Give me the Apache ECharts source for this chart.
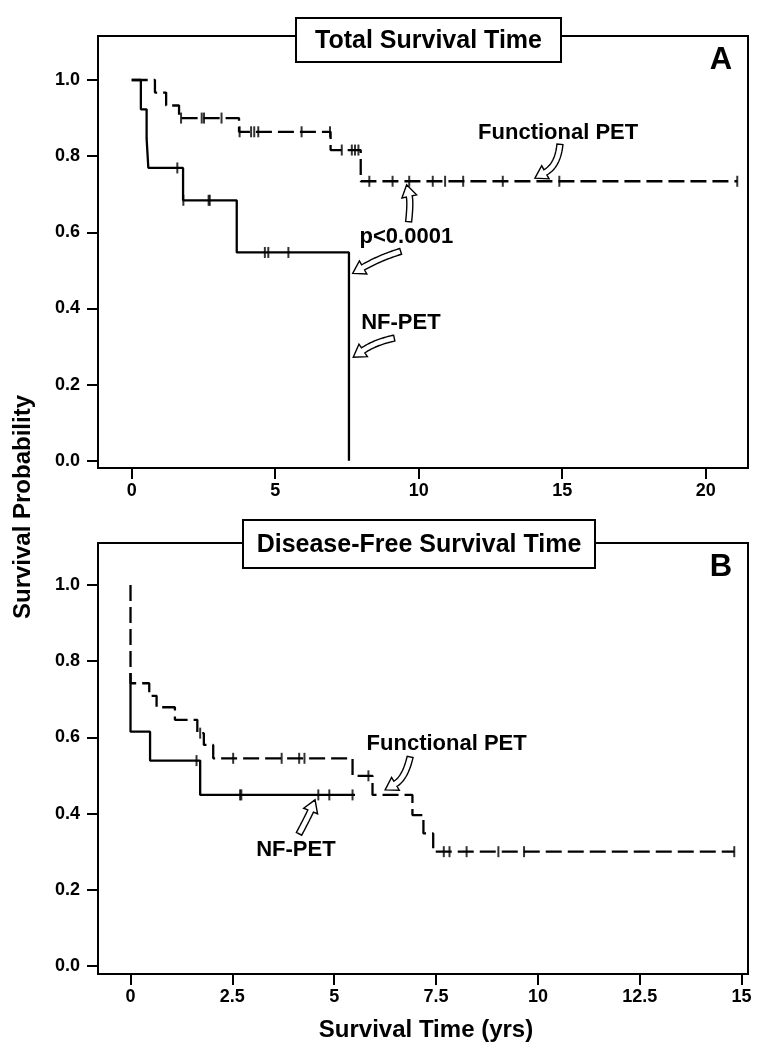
<!DOCTYPE html>
<html><head><meta charset="utf-8">
<script src="https://cdn.jsdelivr.net/npm/echarts@6/dist/echarts.min.js"></script>
<style>html,body{margin:0;padding:0;background:#fff}#c{width:766px;height:1050px}</style>
</head><body><div id="c"></div>
<script>
// ---- Panel A: Total Survival Time ----
const totalFuncTimes = [0, 0.81, 1.20, 1.65, 3.74, 6.93, 7.98, 21.1];
const totalFuncSurv  = [1, 0.967, 0.933, 0.900, 0.864, 0.816, 0.734, 0.734];
const totalFuncCensor = [1.72, 2.44, 2.52, 3.13, 3.76, 4.16, 4.27, 4.41, 5.92, 6.91, 7.32, 7.67, 7.78, 7.90, 8.28, 9.09, 9.67, 10.49, 10.92, 11.55, 12.93, 14.90, 21.1];
const totalNfTimes = [0, 0.32, 0.52, 0.58, 1.79, 3.66, 7.57];
const totalNfSurv  = [1, 0.923, 0.846, 0.769, 0.684, 0.547, 0];
const totalNfCensor = [1.59, 1.80, 2.68, 2.72, 4.64, 4.76, 5.46];
// ---- Panel B: Disease-Free Survival Time ----
const dfsFuncTimes = [0, 0, 0.46, 0.64, 1.09, 1.64, 1.80, 2.03, 5.45, 5.94, 6.92, 7.19, 7.43, 14.82];
const dfsFuncSurv  = [1, 0.742, 0.709, 0.679, 0.646, 0.611, 0.580, 0.545, 0.499, 0.449, 0.396, 0.348, 0.300, 0.300];
const dfsFuncCensor = [1.71, 2.52, 3.71, 4.14, 4.27, 5.84, 7.69, 7.83, 8.25, 9.03, 9.66, 14.82];
const dfsNfTimes = [0, 0, 0.48, 1.71, 5.51];
const dfsNfSurv  = [0.769, 0.615, 0.539, 0.449, 0.449];
const dfsNfCensor = [1.62, 2.69, 2.72, 4.61, 4.88, 5.45];
// ---- tick labels ----
const totalXTicks = [0, 5, 10, 15, 20];
const dfsXTicks = [0, 2.5, 5, 7.5, 10, 12.5, 15];
const probTicks = [0, 0.2, 0.4, 0.6, 0.8, 1.0];

const FONT = 'Liberation Sans, Arial, Helvetica, sans-serif';

function curve(times, surv) { return times.map((t, i) => [t, surv[i]]); }
function survAt(times, surv, t) {
  let v = surv[0];
  for (let i = 0; i < times.length; i++) { if (times[i] <= t) v = surv[i]; }
  return v;
}
function censorPts(times, surv, cens) { return cens.map(t => [t, survAt(times, surv, t)]); }

function xAxisDef(grid, min, max, ticks) {
  return {
    type: 'value', gridIndex: grid, min: min, max: max,
    axisLine: { show: true, onZero: false, lineStyle: { color: '#000', width: 2 } },
    axisTick: { show: true, length: 11, customValues: ticks, lineStyle: { color: '#000', width: 2 } },
    axisLabel: { customValues: ticks, margin: 14, color: '#000', fontFamily: FONT, fontWeight: 'bold', fontSize: 18,
      formatter: v => String(v) },
    splitLine: { show: false }
  };
}
function yAxisDef(grid, min, max) {
  return {
    type: 'value', gridIndex: grid, min: min, max: max,
    axisLine: { show: true, onZero: false, lineStyle: { color: '#000', width: 2 } },
    axisTick: { show: true, length: 11, customValues: probTicks, lineStyle: { color: '#000', width: 2 } },
    axisLabel: { customValues: probTicks, margin: 18, color: '#000', fontFamily: FONT, fontWeight: 'bold', fontSize: 18,
      formatter: v => v.toFixed(1) },
    splitLine: { show: false }
  };
}
function lineSeries(grid, data, dashed) {
  return { type: 'line', xAxisIndex: grid, yAxisIndex: grid, data: data, step: 'end', showSymbol: false,
    symbol: 'none', silent: true,
    lineStyle: { color: '#000', width: 2.3, type: dashed ? [16, 6] : 'solid' } };
}
function censorSeries(grid, data) {
  return { type: 'scatter', xAxisIndex: grid, yAxisIndex: grid, data: data, symbol: 'rect', symbolSize: [2, 11],
    silent: true, itemStyle: { color: '#000' } };
}

const chart = echarts.init(document.getElementById('c'), null, { renderer: 'canvas' });
chart.setOption({
  animation: false,
  backgroundColor: '#fff',
  grid: [
    { left: 98, top: 36, width: 650, height: 432, show: true, borderColor: '#000', borderWidth: 2 },
    { left: 98, top: 543, width: 650, height: 431, show: true, borderColor: '#000', borderWidth: 2 }
  ],
  xAxis: [xAxisDef(0, -1.174, 21.474, totalXTicks), xAxisDef(1, -0.798, 15.157, dfsXTicks)],
  yAxis: [yAxisDef(0, -0.0192, 1.1156), yAxisDef(1, -0.021, 1.110)],
  series: [
    lineSeries(0, curve(totalFuncTimes, totalFuncSurv), true),
    lineSeries(0, curve(totalNfTimes, totalNfSurv), false),
    censorSeries(0, censorPts(totalFuncTimes, totalFuncSurv, totalFuncCensor)),
    censorSeries(0, censorPts(totalNfTimes, totalNfSurv, totalNfCensor)),
    lineSeries(1, curve(dfsFuncTimes, dfsFuncSurv), true),
    lineSeries(1, curve(dfsNfTimes, dfsNfSurv), false),
    censorSeries(1, censorPts(dfsFuncTimes, dfsFuncSurv, dfsFuncCensor)),
    censorSeries(1, censorPts(dfsNfTimes, dfsNfSurv, dfsNfCensor))
  ]
});

// ---- annotations ----
function arrowPts(p0, c, p1, shaftW, headW, headL) {
  const dx = p1[0] - c[0], dy = p1[1] - c[1], L = Math.hypot(dx, dy);
  const ux = dx / L, uy = dy / L;
  const b = [p1[0] - ux * headL, p1[1] - uy * headL];
  const N = 24, left = [], right = [];
  for (let i = 0; i <= N; i++) {
    const s = i / N;
    const x = (1 - s) * (1 - s) * p0[0] + 2 * (1 - s) * s * c[0] + s * s * b[0];
    const y = (1 - s) * (1 - s) * p0[1] + 2 * (1 - s) * s * c[1] + s * s * b[1];
    const tx = 2 * (1 - s) * (c[0] - p0[0]) + 2 * s * (b[0] - c[0]);
    const ty = 2 * (1 - s) * (c[1] - p0[1]) + 2 * s * (b[1] - c[1]);
    const tl = Math.hypot(tx, ty) || 1;
    const nx = -ty / tl, ny = tx / tl;
    left.push([x + nx * shaftW / 2, y + ny * shaftW / 2]);
    right.push([x - nx * shaftW / 2, y - ny * shaftW / 2]);
  }
  const nx = -uy, ny = ux;
  return left.concat([[b[0] + nx * headW / 2, b[1] + ny * headW / 2], p1, [b[0] - nx * headW / 2, b[1] - ny * headW / 2]])
    .concat(right.reverse());
}
function px(grid, pt) { return chart.convertToPixel({ gridIndex: grid }, pt); }
function arrow(grid, tipData, tailOff, ctrlOff) {
  const tip = px(grid, tipData);
  const p0 = [tip[0] + tailOff[0], tip[1] + tailOff[1]];
  const c = [tip[0] + ctrlOff[0], tip[1] + ctrlOff[1]];
  return { type: 'polygon', z: 50, shape: { points: arrowPts(p0, c, tip, 6, 15, 12) },
    style: { fill: '#fff', stroke: '#000', lineWidth: 1.4 } };
}
function label(grid, posData, text, size) {
  const p = px(grid, posData);
  return { type: 'text', z: 50, x: p[0], y: p[1],
    style: { text: text, fill: '#000', fontFamily: FONT, fontWeight: 'bold', fontSize: size || 22,
      align: 'center', verticalAlign: 'middle' } };
}
function titleBox(x0, y0, x1, y1, text) {
  return [
    { type: 'rect', z: 60, shape: { x: x0, y: y0, width: x1 - x0, height: y1 - y0 },
      style: { fill: '#fff', stroke: '#000', lineWidth: 2 } },
    { type: 'text', z: 61, x: (x0 + x1) / 2, y: (y0 + y1) / 2 + 1,
      style: { text: text, fill: '#000', fontFamily: FONT, fontWeight: 'bold', fontSize: 25,
        align: 'center', verticalAlign: 'middle' } }
  ];
}

const graphics = [].concat(
  titleBox(296, 18, 561, 62, 'Total Survival Time'),
  titleBox(243, 520, 595, 568, 'Disease-Free Survival Time'),
  [
    { type: 'text', z: 50, x: 721, y: 60, style: { text: 'A', fill: '#000', fontFamily: FONT, fontWeight: 'bold', fontSize: 31, align: 'center', verticalAlign: 'middle' } },
    { type: 'text', z: 50, x: 721, y: 567, style: { text: 'B', fill: '#000', fontFamily: FONT, fontWeight: 'bold', fontSize: 31, align: 'center', verticalAlign: 'middle' } },
    { type: 'text', z: 50, x: 23, y: 507, rotation: Math.PI / 2,
      style: { text: 'Survival Probability', fill: '#000', fontFamily: FONT, fontWeight: 'bold', fontSize: 24, align: 'center', verticalAlign: 'middle' } },
    { type: 'text', z: 50, x: 426, y: 1030,
      style: { text: 'Survival Time (yrs)', fill: '#000', fontFamily: FONT, fontWeight: 'bold', fontSize: 24, align: 'center', verticalAlign: 'middle' } },
    label(0, [14.86, 0.86], 'Functional PET'),
    label(0, [9.57, 0.588], 'p<0.0001'),
    label(0, [9.38, 0.361], 'NF-PET'),
    label(1, [7.76, 0.583], 'Functional PET'),
    label(1, [4.06, 0.304], 'NF-PET'),
    arrow(0, [14.05, 0.742], [25, -34], [23, -13]),
    arrow(0, [9.58, 0.725], [2, 37], [4, 18]),
    arrow(0, [7.70, 0.492], [48, -22], [28, -16]),
    arrow(0, [7.72, 0.272], [41, -19], [22, -15]),
    arrow(1, [6.25, 0.462], [25, -33], [20, -12]),
    arrow(1, [4.53, 0.436], [-16, 34], [-6, 15])
  ]
);
chart.setOption({ graphic: { elements: graphics } });
</script>
</body></html>
